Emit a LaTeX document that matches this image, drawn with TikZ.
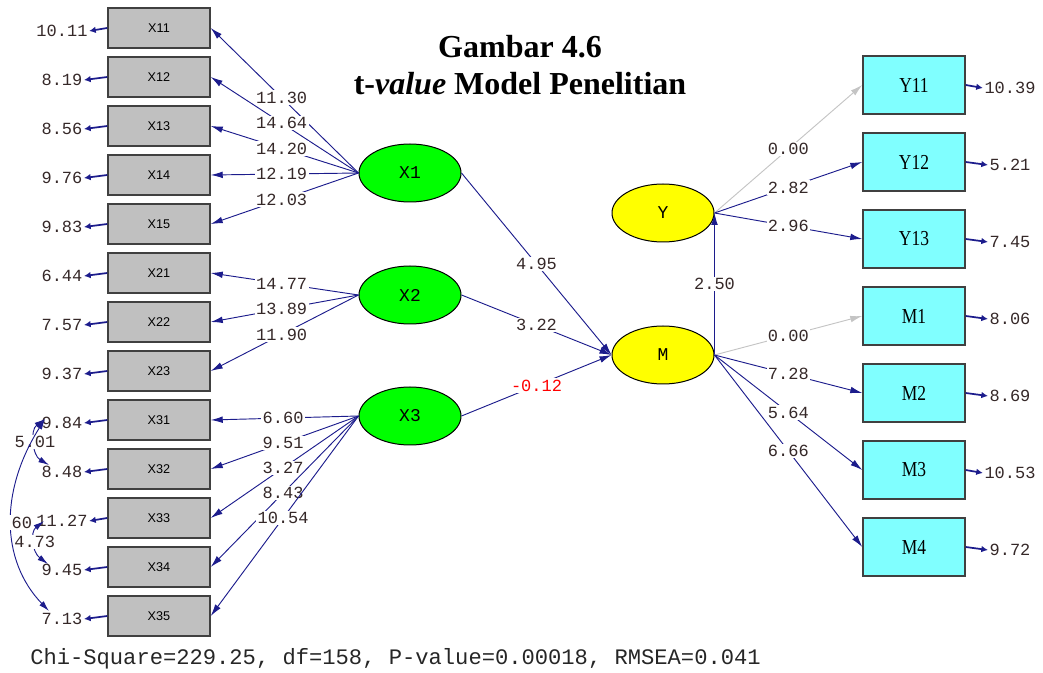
\documentclass[tikz,border=0pt]{standalone}
\usepackage{fontspec}
\usepackage{xcolor}
\setmainfont{Liberation Serif}
\setsansfont{Liberation Sans}
\setmonofont{Liberation Mono}
\newfontfamily\narrowserif[FakeStretch=0.82]{Liberation Serif}
\usetikzlibrary{arrows.meta,shapes.geometric}
\definecolor{lisrelnavy}{HTML}{1C1C8C}
\definecolor{numtext}{HTML}{352828}
\definecolor{boxgray}{HTML}{C0C0C0}
\definecolor{boxline}{HTML}{404040}
\definecolor{boxcyan}{HTML}{80FFFF}
\definecolor{latgreen}{HTML}{00FF00}
\definecolor{latyellow}{HTML}{FFFF00}
\definecolor{fixedgray}{HTML}{C4C4C4}

\begin{document}
\begin{tikzpicture}[x=0.75pt, y=-0.75pt,
    obsx/.style={draw=boxline, line width=1.1pt, fill=boxgray, minimum width=76.5pt, minimum height=30pt, inner sep=0pt, font=\sffamily\fontsize{9.5}{11}\selectfont},
    obsy/.style={draw=boxline, line width=1.1pt, fill=boxcyan, minimum width=76.5pt, minimum height=43.5pt, inner sep=0pt, font=\narrowserif\fontsize{16}{18}\selectfont},
    latent/.style={ellipse, draw=black, line width=0.75pt, minimum width=76.5pt, minimum height=43.5pt, inner sep=0pt, font=\ttfamily\fontsize{13.5}{15}\selectfont},
    num/.style={text=numtext, font=\ttfamily\fontsize{12.75}{14}\selectfont, inner sep=1pt},
    coef/.style={num, fill=white},
    loading/.style={draw=lisrelnavy, line width=0.7pt, -{Latex[length=9pt,width=5pt]}},
    fixed/.style={loading, draw=fixedgray},
    errarrow/.style={draw=lisrelnavy, line width=1.3pt, -{Latex[length=5pt,width=5pt]}},
    covarrow/.style={draw=lisrelnavy, line width=0.7pt, {Latex[length=8pt,width=4.5pt]}-{Latex[length=8pt,width=4.5pt]}}]
    \useasboundingbox (0,0) rectangle (1043,673);

    % Judul
    \node[font=\bfseries\fontsize{24}{27.75}\selectfont, align=center] (judul) at (520,65) {Gambar 4.6\\t-\textit{value} Model Penelitian};

    % Indicadores de X1, X2, X3
    \node[obsx] (X11) at (159,28) {X11};
    \node[obsx] (X12) at (159,77) {X12};
    \node[obsx] (X13) at (159,126) {X13};
    \node[obsx] (X14) at (159,175) {X14};
    \node[obsx] (X15) at (159,224) {X15};
    \node[obsx] (X21) at (159,273) {X21};
    \node[obsx] (X22) at (159,322) {X22};
    \node[obsx] (X23) at (159,371) {X23};
    \node[obsx] (X31) at (159,420) {X31};
    \node[obsx] (X32) at (159,469) {X32};
    \node[obsx] (X33) at (159,518) {X33};
    \node[obsx] (X34) at (159,567) {X34};
    \node[obsx] (X35) at (159,616) {X35};

    % Errores de medida (izquierda)
    \node[num] (e11) at (62,31) {10.11};
    \node[num] (e12) at (62,80) {8.19};
    \node[num] (e13) at (62,129) {8.56};
    \node[num] (e14) at (62,178) {9.76};
    \node[num] (e15) at (62,227) {9.83};
    \node[num] (e21) at (62,276) {6.44};
    \node[num] (e22) at (62,325) {7.57};
    \node[num] (e23) at (62,374) {9.37};
    \node[num] (e31) at (62,423) {9.84};
    \node[num] (e32) at (62,472) {8.48};
    \node[num] (e33) at (62,521) {11.27};
    \node[num] (e34) at (62,570) {9.45};
    \node[num] (e35) at (62,619) {7.13};
    \draw[errarrow] (X11.west) -- (e11.east);
    \draw[errarrow] (X12.west) -- (e12.east);
    \draw[errarrow] (X13.west) -- (e13.east);
    \draw[errarrow] (X14.west) -- (e14.east);
    \draw[errarrow] (X15.west) -- (e15.east);
    \draw[errarrow] (X21.west) -- (e21.east);
    \draw[errarrow] (X22.west) -- (e22.east);
    \draw[errarrow] (X23.west) -- (e23.east);
    \draw[errarrow] (X31.west) -- (e31.east);
    \draw[errarrow] (X32.west) -- (e32.east);
    \draw[errarrow] (X33.west) -- (e33.east);
    \draw[errarrow] (X34.west) -- (e34.east);
    \draw[errarrow] (X35.west) -- (e35.east);

    % Covarianzas entre errores
    \coordinate (c31) at (45,419);
    \coordinate (c32) at (49,465);
    \coordinate (c33) at (44,521);
    \coordinate (c34) at (48,564);
    \coordinate (c35) at (49,611);
    \draw[covarrow] (c31) .. controls (30,430) and (32,455) .. node[coef] {5.01} (c32);
    \draw[covarrow] (c33) .. controls (30,532) and (32,552) .. node[coef] {4.73} (c34);
    \draw[covarrow] (c31) .. controls (0,490) and (0,560) .. node[coef] {\phantom{1.}60} (c35);

    % Variables latentes
    \node[latent, fill=latgreen] (X1) at (410,173) {X1};
    \node[latent, fill=latgreen] (X2) at (410,295) {X2};
    \node[latent, fill=latgreen] (X3) at (410,416) {X3};
    \node[latent, fill=latyellow] (Y) at (663,213) {Y};
    \node[latent, fill=latyellow] (M) at (663,355) {M};

    % Cargas de X1, X2, X3
    \draw[loading] (X1.west) -- node[coef, pos=0.52] {11.30} (X11.east);
    \draw[loading] (X1.west) -- node[coef, pos=0.52] {14.64} (X12.east);
    \draw[loading] (X1.west) -- node[coef, pos=0.52] {14.20} (X13.east);
    \draw[loading] (X1.west) -- node[coef, pos=0.52] {12.19} (X14.east);
    \draw[loading] (X1.west) -- node[coef, pos=0.52] {12.03} (X15.east);
    \draw[loading] (X2.west) -- node[coef, pos=0.52] {14.77} (X21.east);
    \draw[loading] (X2.west) -- node[coef, pos=0.52] {13.89} (X22.east);
    \draw[loading] (X2.west) -- node[coef, pos=0.52] {11.90} (X23.east);
    \draw[loading] (X3.west) -- node[coef, pos=0.51] {6.60} (X31.east);
    \draw[loading] (X3.west) -- node[coef, pos=0.51] {9.51} (X32.east);
    \draw[loading] (X3.west) -- node[coef, pos=0.51] {3.27} (X33.east);
    \draw[loading] (X3.west) -- node[coef, pos=0.51] {8.43} (X34.east);
    \draw[loading] (X3.west) -- node[coef, pos=0.51] {10.54} (X35.east);

    % Modelo estructural
    \draw[loading] (X1.east) -- node[coef] {4.95} (M.west);
    \draw[loading] (X2.east) -- node[coef] {3.22} (M.west);
    \draw[loading] (X3.east) -- node[coef, text=red] {-0.12} (M.west);
    \draw[loading] (M.east) -- node[coef] {2.50} (Y.east);

    % Indicadores de Y y M
    \node[obsy] (Y11) at (914,85) {Y11};
    \node[obsy] (Y12) at (914,162) {Y12};
    \node[obsy] (Y13) at (914,239) {Y13};
    \node[obsy] (M1) at (914,316) {M1};
    \node[obsy] (M2) at (914,393) {M2};
    \node[obsy] (M3) at (914,470) {M3};
    \node[obsy] (M4) at (914,547) {M4};
    \draw[fixed] (Y.east) -- node[coef] {0.00} (Y11.west);
    \draw[loading] (Y.east) -- node[coef] {2.82} (Y12.west);
    \draw[loading] (Y.east) -- node[coef] {2.96} (Y13.west);
    \draw[fixed] (M.east) -- node[coef] {0.00} (M1.west);
    \draw[loading] (M.east) -- node[coef] {7.28} (M2.west);
    \draw[loading] (M.east) -- node[coef] {5.64} (M3.west);
    \draw[loading] (M.east) -- node[coef] {6.66} (M4.west);

    % Errores de medida (derecha)
    \node[num] (eY11) at (1010,88) {10.39};
    \node[num] (eY12) at (1010,165) {5.21};
    \node[num] (eY13) at (1010,242) {7.45};
    \node[num] (eM1) at (1010,319) {8.06};
    \node[num] (eM2) at (1010,396) {8.69};
    \node[num] (eM3) at (1010,473) {10.53};
    \node[num] (eM4) at (1010,550) {9.72};
    \draw[errarrow] (Y11.east) -- (eY11.west);
    \draw[errarrow] (Y12.east) -- (eY12.west);
    \draw[errarrow] (Y13.east) -- (eY13.west);
    \draw[errarrow] (M1.east) -- (eM1.west);
    \draw[errarrow] (M2.east) -- (eM2.west);
    \draw[errarrow] (M3.east) -- (eM3.west);
    \draw[errarrow] (M4.east) -- (eM4.west);

    % Estadisticos de ajuste
    \node[anchor=west, text=black!85, font=\ttfamily\fontsize{16.6}{18}\selectfont, inner sep=0pt] (ajuste) at (30,659) {Chi-Square=229.25, df=158, P-value=0.00018, RMSEA=0.041};
\end{tikzpicture}
\end{document}
